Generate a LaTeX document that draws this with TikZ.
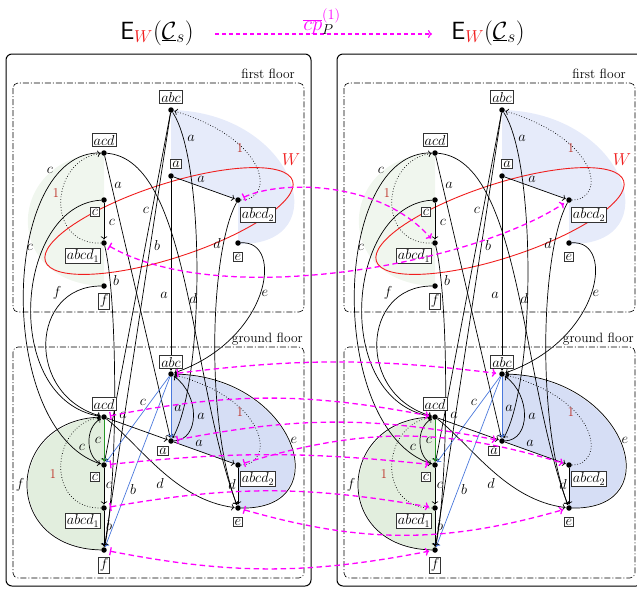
\documentclass[tikz,border=0pt]{standalone}
\usetikzlibrary{arrows.meta}
\definecolor{mag}{RGB}{255,0,255}
\definecolor{wred}{RGB}{240,30,30}
\definecolor{onered}{RGB}{190,50,40}
\definecolor{eblue}{RGB}{74,120,220}
\definecolor{egreen}{RGB}{40,150,40}
\definecolor{gfillA}{RGB}{240,246,238}
\definecolor{bfillA}{RGB}{230,235,250}
\definecolor{gfillB}{RGB}{226,238,222}
\definecolor{bfillB}{RGB}{214,222,245}
\tikzset{
  pt/.style={circle,fill=black,inner sep=0pt,minimum size=5.5pt},
  vbox/.style={draw=black!80,line width=0.7pt,fill=white,inner sep=1.5pt,font=\fontsize{14}{16}\selectfont},
  txt/.style={font=\fontsize{13.5}{15}\selectfont,inner sep=0pt},
  elab/.style={font=\fontsize{13.5}{15}\selectfont,inner sep=1pt},
  onel/.style={font=\fontsize{13.5}{15}\selectfont,text=onered,inner sep=1pt},
  ed/.style={draw=black,line width=0.7pt,-{To[length=3.2pt,width=6.5pt]},shorten >=0.5pt},
  edb/.style={ed,draw=eblue},
  edg/.style={ed,draw=egreen},
  dt/.style={ed,dotted},
  mg/.style={draw=mag,line width=1.3pt,dash pattern=on 5.5pt off 3.5pt,{Bar[width=8pt]}-{To[length=4pt,width=8pt]},shorten >=3pt,shorten <=3pt},
  floorbox/.style={draw=black,dash pattern=on 6pt off 2pt on 1pt off 2pt,line width=0.6pt,rounded corners=5pt},
  panelbox/.style={draw=black,line width=1pt,rounded corners=6pt},
}
\newcommand{\floorpanel}{%
\fill[gfillA] (104,286) .. controls (0,284) and (5,156) .. (104,153) -- cycle;
\fill[bfillA] (171,110) -- (171,176) -- (238,200) -- (238,244) .. controls (340,246) and (295,112) .. (171,110) -- cycle;
\fill[gfillB] (104,550) .. controls (0,548) and (5,420) .. (104,417) -- cycle;
\fill[bfillB] (171,374) -- (171,441) -- (238,465) -- (238,508) .. controls (340,510) and (295,376) .. (171,374) -- cycle;
\draw[panelbox] (6,54) rectangle (311,586);
\draw[floorbox] (13,83) rectangle (304,312);
\draw[floorbox] (13,347) rectangle (304,578);
\node[txt,anchor=base east] (ffl) at (295,78) {first floor};
\node[txt,anchor=base east] (gfl) at (303,342) {ground floor};
\node[pt] (fabc) at (171,110) {};
\node[pt] (facd) at (104,153) {};
\node[pt] (fa) at (171,176) {};
\node[pt] (fc) at (104,200) {};
\node[pt] (fabcd1) at (104,243) {};
\node[pt] (fabcd2) at (238,200) {};
\node[pt] (fe) at (238,243) {};
\node[pt] (ff) at (104,286) {};
\node[pt] (gabc) at (171,374) {};
\node[pt] (gacd) at (104,417) {};
\node[pt] (ga) at (171,441) {};
\node[pt] (gc) at (104,465) {};
\node[pt] (gabcd1) at (104,508) {};
\node[pt] (gabcd2) at (238,465) {};
\node[pt] (ge) at (238,508) {};
\node[pt] (gf) at (104,550) {};
\draw[wred,line width=0.9pt,rotate around={18:(169,221)}] (169,221) ellipse [x radius=130pt,y radius=37pt];
\node[txt,text=wred,font=\fontsize{16}{18}\selectfont] (wlab) at (291,160) {$W$};
% first floor
\draw[ed] (fa) -- (fabcd2) node[elab] at (201,179) {$a$};
\draw[ed] (fc) -- (fabcd1) node[elab] at (112,222) {$c$};
\draw[dt] (fabcd1) .. controls (45,245) and (50,160) .. (facd) node[onel] at (56,193) {1};
\draw[dt] (fabcd2) .. controls (275,200) and (270,140) .. (fabc) node[onel] at (240,148) {1};
% between floors
\draw[ed] (fabc) .. controls (205,160) and (205,380) .. (ga) node[elab] at (191,138) {$a$};
\draw[ed] (fabc) -- (gc) node[elab] at (146,210) {$c$};
\draw[ed] (fabc) -- (gf) node[elab] at (157,245) {$b$};
\draw[ed] (facd) .. controls (0,150) and (-5,430) .. (gc) node[elab] at (50,170) {$c$};
\draw[ed] (facd) -- (ga) node[elab] at (118,185) {$a$};
\draw[ed] (facd) .. controls (190,160) and (190,380) .. (ge) node[elab] at (193,298) {$d$};
\draw[ed] (fa) -- (gabc) node[elab] at (164,295) {$a$};
\draw[ed] (fc) .. controls (15,205) and (0,400) .. (gacd) node[elab] at (30,247) {$c$};
\draw[ed] (fabcd1) .. controls (118,300) and (118,480) .. (gf) node[elab] at (116,280) {$b$};
\draw[ed] (fabcd2) .. controls (210,250) and (205,420) .. (ge) node[elab] at (217,243) {$d$};
\draw[ed] (fe) .. controls (285,240) and (270,340) .. (gabc) node[elab] at (265,293) {$e$};
\draw[ed] (ff) .. controls (30,286) and (25,395) .. (gacd) node[elab] at (57,293) {$f$};
% ground floor
\draw[edb] (gabc) -- (ga) node[elab] at (178,408) {$a$};
\draw[edb] (gabc) -- (gc) node[elab] at (143,402) {$c$};
\draw[edb] (gabc) -- (gf) node[elab] at (133,489) {$b$};
\draw[edg] (gacd) -- (gc) node[elab] at (98,440) {$c$};
\draw[ed] (gc) .. controls (86,458) and (84,428) .. (gacd) node[elab] at (82,447) {$c$};
\draw[ed] (gacd) -- (ga) node[elab] at (123,415) {$a$};
\draw[ed] (gacd) .. controls (140,445) and (175,500) .. (ge) node[elab] at (160,483) {$d$};
\draw[ed] (ga) .. controls (200,440) and (200,395) .. (gabc) node[elab] at (201,416) {$a$};
\draw[ed] (ga) -- (gabcd2) node[elab] at (199,443) {$a$};
\draw[ed] (gc) -- (gabcd1) node[elab] at (109,485) {$c$};
\draw[ed] (gabcd1) -- (gf) node[elab] at (109,525) {$b$};
\draw[ed] (gabcd2) -- (ge) node[elab] at (232,484) {$d$};
\draw[ed] (ge) .. controls (340,510) and (295,376) .. (gabc) node[elab] at (294,440) {$e$};
\draw[ed] (gf) .. controls (0,548) and (5,420) .. (gacd) node[elab] at (20,485) {$f$};
\draw[dt] (gabcd1) .. controls (45,509) and (50,424) .. (gacd) node[onel] at (53,474) {1};
\draw[dt] (gabcd2) .. controls (275,465) and (270,400) .. (gabc) node[onel] at (240,412) {1};
% vertex labels
\node[vbox] (fabcL) at (171,97) {$abc$};
\node[vbox] (facdL) at (104,140) {$acd$};
\node[vbox] (faL) at (176,164) {$a$};
\node[vbox] (fcL) at (95,212) {$c$};
\node[vbox] (fabcd1L) at (83,256) {$abcd_1$};
\node[vbox] (fabcd2L) at (258,215) {$abcd_2$};
\node[vbox] (feL) at (238,257) {$e$};
\node[vbox] (ffL) at (104,301) {$f$};
\node[vbox] (gabcL) at (171,362) {$abc$};
\node[vbox] (gacdL) at (104,404) {$acd$};
\node[vbox] (gaL) at (163,451) {$a$};
\node[vbox] (gcL) at (95,477) {$c$};
\node[vbox] (gabcd1L) at (83,521) {$abcd_1$};
\node[vbox] (gabcd2L) at (258,479) {$abcd_2$};
\node[vbox] (geL) at (238,522) {$e$};
\node[vbox] (gfL) at (104,565) {$f$};
}
\begin{document}
\begin{tikzpicture}[x=1pt,y=-1pt]
\useasboundingbox (0,0) rectangle (637,590);
\clip (0,0) rectangle (637,590);
\begin{scope}[name prefix=L-]
\floorpanel
\end{scope}
\begin{scope}[shift={(331,0)},name prefix=R-]
\floorpanel
\end{scope}
% header
\node[font=\fontsize{25}{28}\selectfont] (hl) at (157,33) {$\mathsf{E}_{\color{wred}W}(\underline{\mathcal{C}}_s)$};
\node[font=\fontsize{25}{28}\selectfont] (hr) at (488,33) {$\mathsf{E}_{\color{wred}W}(\underline{\mathcal{C}}_s)$};
\coordinate (ha) at (215,34);
\coordinate (hb) at (432,34);
\draw[draw=mag,line width=1.2pt,dash pattern=on 4pt off 3pt,-{To[length=4pt,width=8pt]}] (ha) -- (hb);
\node[font=\fontsize{22}{24}\selectfont] (hlab) at (322,22) {$\textcolor{mag}{\overline{cp}}_{P}^{\textcolor{mag}{(1)}}$};
% magenta maps
\draw[mg] (L-fabcd2) .. controls (280,180) and (380,180) .. (R-fabcd1);
\draw[mg] (L-fabcd1) .. controls (220,310) and (470,265) .. (R-fabcd2);
\draw[mg] (L-gabc) to[bend left=7] (R-gabc);
\draw[mg] (L-gacd) to[bend left=11] (R-gacd);
\draw[mg] (L-ga) to[bend left=11] (R-ga);
\draw[mg] (L-gabcd2) to[bend left=17] (R-gabcd2);
\draw[mg] (L-gc) to[bend left=6] (R-gc);
\draw[mg] (L-gabcd1) to[bend left=10] (R-gabcd1);
\draw[mg] (L-ge) to[bend right=16] (R-ge);
\draw[mg] (L-gf) to[bend right=11] (R-gf);
\end{tikzpicture}
\end{document}
